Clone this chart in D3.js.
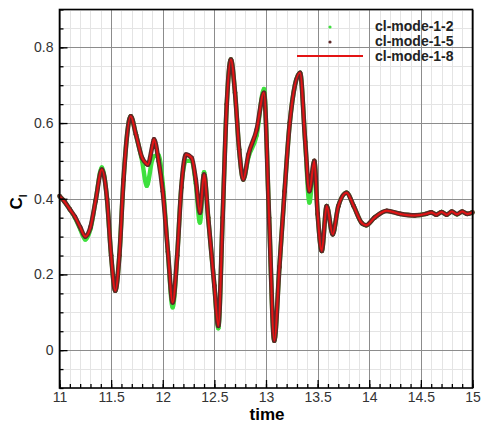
<!DOCTYPE html>
<meta charset="utf-8">
<style>
	body {
		margin: 0;
		background: #fff;
		font-family: "Liberation Sans", Arial, sans-serif;
	}
	.grid line { shape-rendering: crispEdges; }
	.grid path { display: none; }
	.ax path { display: none; }
	.ax line { stroke: #000; stroke-width: 1.3; }
	.ax text { font-size: 14px; fill: #333; font-family: "Liberation Sans", Arial, sans-serif; }
</style>
<body>
<script src="https://cdn.jsdelivr.net/npm/d3@7"></script>
<script>
	// sample times (shared by the three series)
	var time = [11.00, 11.05, 11.10, 11.15, 11.20, 11.25, 11.30, 11.35, 11.41, 11.46,
		11.50, 11.54, 11.58, 11.62, 11.69, 11.74, 11.80, 11.845, 11.855, 11.90,
		11.915, 11.96, 12.00, 12.05, 12.096, 12.14, 12.18, 12.225, 12.28, 12.32,
		12.36, 12.40, 12.44, 12.50, 12.538, 12.58, 12.62, 12.66, 12.70, 12.74,
		12.78, 12.83, 12.91, 12.98, 13.03, 13.08, 13.13, 13.18, 13.23, 13.33,
		13.38, 13.42, 13.468, 13.50, 13.54, 13.588, 13.646, 13.70, 13.78, 13.85,
		13.93, 13.97, 14.05, 14.17, 14.30, 14.44, 14.55, 14.60, 14.65, 14.70,
		14.75, 14.80, 14.85, 14.90, 14.95, 15.00];

	var clMode12 = [0.407, 0.392, 0.372, 0.350, 0.320, 0.292, 0.320, 0.395, 0.483, 0.40,
		0.25, 0.157, 0.25, 0.45, 0.618, 0.57, 0.500, 0.434, 0.440, 0.505,
		0.512, 0.515, 0.44, 0.26, 0.113, 0.25, 0.43, 0.500, 0.500, 0.44,
		0.337, 0.470, 0.35, 0.17, 0.058, 0.35, 0.65, 0.768, 0.68, 0.53,
		0.451, 0.510, 0.568, 0.690, 0.35, 0.025, 0.22, 0.42, 0.60, 0.733,
		0.55, 0.390, 0.50, 0.36, 0.262, 0.381, 0.306, 0.38, 0.416, 0.38,
		0.335, 0.330, 0.350, 0.368, 0.360, 0.356, 0.360, 0.364, 0.358, 0.365,
		0.358, 0.366, 0.359, 0.366, 0.360, 0.364];

	var clMode15 = [0.407, 0.392, 0.372, 0.352, 0.325, 0.300, 0.325, 0.395, 0.477, 0.40,
		0.25, 0.157, 0.25, 0.45, 0.618, 0.57, 0.508, 0.492, 0.490, 0.540,
		0.557, 0.50, 0.42, 0.26, 0.126, 0.25, 0.43, 0.517, 0.508, 0.45,
		0.363, 0.464, 0.35, 0.17, 0.064, 0.35, 0.65, 0.768, 0.68, 0.53,
		0.451, 0.517, 0.583, 0.680, 0.35, 0.025, 0.22, 0.42, 0.60, 0.733,
		0.55, 0.420, 0.50, 0.36, 0.262, 0.381, 0.306, 0.38, 0.416, 0.38,
		0.335, 0.330, 0.350, 0.368, 0.360, 0.356, 0.360, 0.364, 0.358, 0.365,
		0.358, 0.366, 0.359, 0.366, 0.360, 0.364];

	var clMode18 = [0.407, 0.392, 0.372, 0.352, 0.325, 0.300, 0.325, 0.395, 0.477, 0.40,
		0.25, 0.157, 0.25, 0.45, 0.618, 0.57, 0.508, 0.492, 0.490, 0.540,
		0.557, 0.50, 0.42, 0.26, 0.126, 0.25, 0.43, 0.517, 0.508, 0.45,
		0.363, 0.464, 0.35, 0.17, 0.064, 0.35, 0.65, 0.768, 0.68, 0.53,
		0.451, 0.517, 0.583, 0.680, 0.35, 0.025, 0.22, 0.42, 0.60, 0.733,
		0.55, 0.420, 0.50, 0.36, 0.262, 0.381, 0.306, 0.38, 0.416, 0.38,
		0.335, 0.330, 0.350, 0.368, 0.360, 0.356, 0.360, 0.364, 0.358, 0.365,
		0.358, 0.366, 0.359, 0.366, 0.360, 0.364];

	var xTicks = [11, 11.5, 12, 12.5, 13, 13.5, 14, 14.5, 15];
	var yTicks = [0, 0.2, 0.4, 0.6, 0.8];
	var seriesNames = ["cl-mode-1-2", "cl-mode-1-5", "cl-mode-1-8"];

	var W = 493, H = 428;
	var pLeft = 59.5, pRight = 472.5, pTop = 9.5, pBottom = 388;

	var x = d3.scaleLinear().domain([11, 15]).range([pLeft, pRight]);
	var y = d3.scaleLinear().domain([-0.1, 0.9]).range([pBottom, pTop]);

	var svg = d3.select("body").append("svg")
		.attr("width", W)
		.attr("height", H);

	var minorX = d3.range(110, 151).map(function(d) { return d / 10; });
	var minorY = d3.range(-2, 19).map(function(d) { return d / 20; });

	// minor grid
	svg.append("g").attr("class", "grid")
		.attr("transform", "translate(0," + pBottom + ")")
		.call(d3.axisBottom(x).tickValues(minorX).tickSize(-(pBottom - pTop)).tickFormat(""))
		.selectAll("line").attr("stroke", "#e4e4e4");
	svg.append("g").attr("class", "grid")
		.attr("transform", "translate(" + pLeft + ",0)")
		.call(d3.axisLeft(y).tickValues(minorY).tickSize(-(pRight - pLeft)).tickFormat(""))
		.selectAll("line").attr("stroke", "#e4e4e4");

	// major grid
	svg.append("g").attr("class", "grid")
		.attr("transform", "translate(0," + pBottom + ")")
		.call(d3.axisBottom(x).tickValues(xTicks).tickSize(-(pBottom - pTop)).tickFormat(""))
		.selectAll("line").attr("stroke", "#8c8c8c");
	svg.append("g").attr("class", "grid")
		.attr("transform", "translate(" + pLeft + ",0)")
		.call(d3.axisLeft(y).tickValues(yTicks).tickSize(-(pRight - pLeft)).tickFormat(""))
		.selectAll("line").attr("stroke", "#8c8c8c");

	// series
	var pts = function(vals) {
		return time.map(function(t, i) { return [t, vals[i]]; });
	};
	var line = d3.line()
		.x(function(d) { return x(d[0]); })
		.y(function(d) { return y(d[1]); })
		.curve(d3.curveMonotoneX);

	var plot = svg.append("g");

	plot.append("path")
		.attr("d", line(pts(clMode12)))
		.attr("fill", "none")
		.attr("stroke", "#3ee03e")
		.attr("stroke-width", 4.4)
		.attr("stroke-linejoin", "round");
	plot.selectAll(".g2").data(pts(clMode12)).enter().append("circle")
		.attr("cx", function(d) { return x(d[0]); })
		.attr("cy", function(d) { return y(d[1]); })
		.attr("r", 2.2)
		.attr("fill", "#3ee03e");

	plot.append("path")
		.attr("d", line(pts(clMode15)))
		.attr("fill", "none")
		.attr("stroke", "#5e2828")
		.attr("stroke-width", 4.6)
		.attr("stroke-linejoin", "round");
	plot.selectAll(".g5").data(pts(clMode15)).enter().append("circle")
		.attr("cx", function(d) { return x(d[0]); })
		.attr("cy", function(d) { return y(d[1]); })
		.attr("r", 2.3)
		.attr("fill", "#5e2828");

	plot.append("path")
		.attr("d", line(pts(clMode18)))
		.attr("fill", "none")
		.attr("stroke", "#e31414")
		.attr("stroke-width", 2)
		.attr("stroke-linejoin", "round");

	// axis ticks (inward)
	svg.append("g").attr("class", "ax")
		.attr("transform", "translate(" + pLeft + ",0)")
		.call(d3.axisLeft(y).tickValues(minorY).tickSize(-4).tickFormat(""));
	svg.append("g").attr("class", "ax")
		.attr("transform", "translate(" + pLeft + ",0)")
		.call(d3.axisLeft(y).tickValues(yTicks).tickSize(-8).tickPadding(6)
			.tickFormat(function(d) { return String(d); }));
	svg.append("g").attr("class", "ax")
		.attr("transform", "translate(0," + pBottom + ")")
		.call(d3.axisBottom(x).tickValues(minorX).tickSize(-4).tickFormat(""));
	svg.append("g").attr("class", "ax")
		.attr("transform", "translate(0," + pBottom + ")")
		.call(d3.axisBottom(x).tickValues(xTicks).tickSize(-8).tickPadding(4)
			.tickFormat(function(d) { return String(d); }));

	// frame
	svg.append("rect")
		.attr("x", pLeft).attr("y", pTop)
		.attr("width", pRight - pLeft).attr("height", pBottom - pTop)
		.attr("fill", "none")
		.attr("stroke", "#000")
		.attr("stroke-width", 1.6);

	// axis titles
	svg.append("text")
		.attr("x", 267).attr("y", 420)
		.attr("text-anchor", "middle")
		.style("font-size", "17px")
		.style("font-weight", "bold")
		.text("time");

	var cl = svg.append("text")
		.attr("transform", "translate(22,202) rotate(-90)")
		.attr("text-anchor", "middle")
		.style("font-size", "17px")
		.style("font-weight", "bold");
	cl.append("tspan").text("C");
	cl.append("tspan").attr("dy", 5).style("font-size", "10px").text("l");

	// legend
	var lg = svg.append("g");
	lg.append("circle").attr("cx", 330).attr("cy", 27).attr("r", 1.6).attr("fill", "#3ee03e");
	lg.append("circle").attr("cx", 330).attr("cy", 42).attr("r", 1.6).attr("fill", "#5e2828");
	lg.append("line").attr("x1", 297).attr("x2", 363).attr("y1", 56).attr("y2", 56)
		.attr("stroke", "#e31414").attr("stroke-width", 2);
	lg.selectAll(".lt").data(seriesNames).enter().append("text")
		.attr("x", 375)
		.attr("y", function(d, i) { return 31 + i * 15; })
		.style("font-size", "14px")
		.style("font-weight", "bold")
		.attr("fill", "#222")
		.text(function(d) { return d; });
</script>
